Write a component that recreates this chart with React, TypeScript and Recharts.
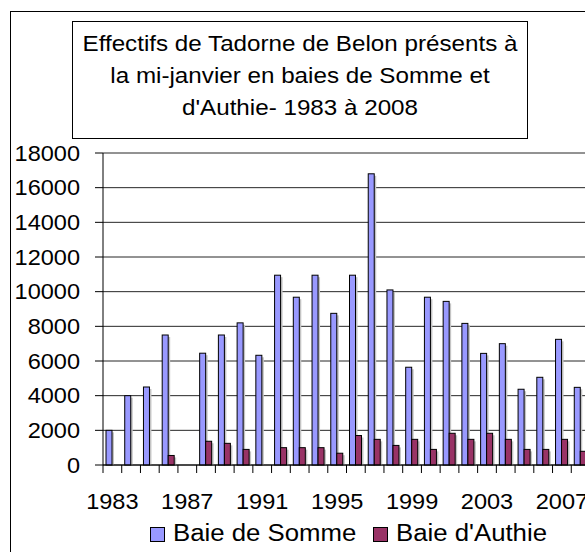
import { BarChart, Bar, XAxis, YAxis, CartesianGrid } from 'recharts'

const years = [
  '1983', '1984', '1985', '1986', '1987', '1988', '1989', '1990', '1991',
  '1992', '1993', '1994', '1995', '1996', '1997', '1998', '1999', '2000',
  '2001', '2002', '2003', '2004', '2005', '2006', '2007', '2008',
]

const somme = [
  2000, 4000, 4500, 7500, 0, 6450, 7500, 8200, 6330, 10950, 9680, 10950, 8750,
  10950, 16800, 10100, 5640, 9680, 9440, 8170, 6440, 7000, 4370, 5060, 7250, 4480,
]

const authie = [
  0, 0, 0, 550, 0, 1370, 1250, 900, 0, 1000, 1000, 1000, 680, 1700, 1480, 1130,
  1480, 900, 1830, 1480, 1830, 1480, 900, 900, 1480, 790,
]

const yTicks = [0, 2000, 4000, 6000, 8000, 10000, 12000, 14000, 16000, 18000]

const titleLines = [
  'Effectifs de Tadorne de Belon présents à',
  'la mi-janvier en baies de Somme et',
  "d'Authie- 1983 à 2008",
]

const series = [
  { key: 'somme', name: 'Baie de Somme', color: '#9999FF' },
  { key: 'authie', name: "Baie d'Authie", color: '#993366' },
]

const data = years.map((year, i) => ({ year, somme: somme[i], authie: authie[i] }))

const FONT = "'Liberation Sans', Arial, sans-serif"
const TICK_SIZE = 8
const X_MARGIN = 20

function XTick({ x, y, payload, index }: any) {
  const half = payload?.offset ?? 0
  const axisY = y - X_MARGIN - TICK_SIZE
  return (
    <g>
      <line x1={x - half} x2={x - half} y1={axisY} y2={axisY + TICK_SIZE} stroke="#000" />
      {index % 4 === 0 && (
        <g transform={`translate(${x},${y}) scale(1.07,1)`}>
          <text textAnchor="middle" dy="0.71em" fontSize={22} fontFamily={FONT} fill="#000">
            {payload.value}
          </text>
        </g>
      )}
    </g>
  )
}

function YTick({ x, y, payload }: any) {
  return (
    <g transform={`translate(${x},${y}) scale(1.07,1)`}>
      <text textAnchor="end" dy="0.355em" fontSize={22} fontFamily={FONT} fill="#000">
        {payload.value}
      </text>
    </g>
  )
}

function ShadowBar(props: any) {
  const { x, y, width, height, fill } = props
  if (!height || height <= 0) return <g />
  return (
    <g>
      <rect x={x + 2} y={y + 2} width={width} height={Math.max(height - 2, 0)} fill="#c4c4c4" />
      <rect x={x} y={y} width={width} height={height} fill={fill} stroke="#000" strokeWidth={1} />
    </g>
  )
}

export default function App() {
  return (
    <div
      style={{
        position: 'absolute',
        left: 0,
        top: 0,
        width: 585,
        height: 552,
        overflow: 'hidden',
        background: '#fff',
        fontFamily: FONT,
      }}
    >
      <div
        style={{
          position: 'absolute',
          left: 10,
          top: 11,
          width: 1000,
          height: 1000,
          border: '1px solid #000',
        }}
      />
      <BarChart
        width={600}
        height={552}
        data={data}
        barSize={6}
        barGap={0}
        margin={{ top: 153, right: 10, bottom: 0, left: 0 }}
      >
        <CartesianGrid vertical={false} stroke="#000" strokeOpacity={0.85} />
        <XAxis
          dataKey="year"
          height={87}
          interval={0}
          tickSize={TICK_SIZE}
          tickMargin={X_MARGIN}
          tickLine={false}
          axisLine={{ stroke: '#000' }}
          tick={<XTick />}
        />
        <YAxis
          width={103}
          domain={[0, 18000]}
          ticks={yTicks}
          interval={0}
          tickSize={TICK_SIZE}
          tickMargin={15}
          tickLine={{ stroke: '#000' }}
          axisLine={{ stroke: '#000' }}
          tick={<YTick />}
        />
        {series.map((s) => (
          <Bar
            key={s.key}
            dataKey={s.key}
            name={s.name}
            fill={s.color}
            shape={<ShadowBar />}
            isAnimationActive={false}
          />
        ))}
      </BarChart>
      <div
        style={{
          position: 'absolute',
          left: 72,
          top: 21,
          width: 454,
          height: 110,
          border: '1px solid #000',
          background: '#fff',
          paddingTop: 6,
          boxSizing: 'content-box',
        }}
      >
        <div style={{ transform: 'scaleX(1.1)', transformOrigin: 'center', textAlign: 'center' }}>
          {titleLines.map((line) => (
            <div key={line} style={{ fontSize: 22, lineHeight: '32px', whiteSpace: 'nowrap' }}>
              {line}
            </div>
          ))}
        </div>
      </div>
      <div
        style={{
          position: 'absolute',
          left: 150,
          top: 522,
          display: 'flex',
          alignItems: 'flex-start',
          whiteSpace: 'nowrap',
        }}
      >
        {series.map((s) => (
          <div key={s.key} style={{ display: 'flex', alignItems: 'flex-start' }}>
            <div
              style={{
                width: 15,
                height: 15,
                marginTop: 5,
                boxSizing: 'border-box',
                border: '1px solid #000',
                background: s.color,
              }}
            />
            <span
              style={{
                display: 'inline-block',
                marginLeft: 8,
                marginRight: 36,
                fontSize: 23,
                lineHeight: '23px',
                transform: 'scaleX(1.12)',
                transformOrigin: 'left',
              }}
            >
              {s.name}
            </span>
          </div>
        ))}
      </div>
    </div>
  )
}
